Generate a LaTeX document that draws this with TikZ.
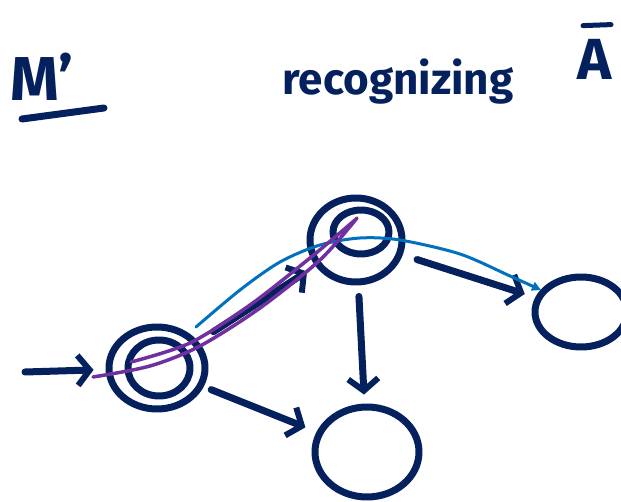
\documentclass[tikz,border=0pt]{standalone}
\usepackage{fontspec}
\setmainfont{Fira Sans}
\usetikzlibrary{arrows.meta,shapes.geometric}
\definecolor{ink}{RGB}{4,33,94}
\definecolor{hlblue}{RGB}{0,112,192}
\definecolor{hlpurple}{RGB}{112,48,160}
\tikzset{
  pen/.style={draw=ink,line width=7pt,line cap=round,line join=round},
  state/.style={ellipse,pen,inner sep=0pt},
  edge/.style={pen,-{Straight Barb[length=12pt,width=30pt,line width=6pt]}},
  hand/.style={text=ink,font=\bfseries,inner sep=0pt},
}
\begin{document}
\begin{tikzpicture}[x=1pt,y=-1pt]
\useasboundingbox (0,0) rectangle (621,502);
% titles
\node[hand,font=\bfseries\fontsize{62}{64}\selectfont,anchor=base west] (m) at (10,101) {M'};
\draw[pen] (22,119) -- (104,108);
\node[hand,font=\bfseries\fontsize{44}{46}\selectfont,anchor=base] (rec) at (398,95) {recognizing};
\node[hand,font=\bfseries\fontsize{58}{60}\selectfont,anchor=base west] (abar) at (577,80) {A};
\draw[pen,line width=5pt] ([xshift=6pt,yshift=14pt]abar.north west) -- ([xshift=34pt,yshift=15pt]abar.north west);
% states
\node[state,minimum width=96pt,minimum height=82pt] (q0) at (157,368) {};
\node[state,minimum width=62pt,minimum height=56pt] (q0in) at (159,368) {};
\node[state,minimum width=92pt,minimum height=84pt] (q1) at (356,240) {};
\node[state,minimum width=56pt,minimum height=44pt] (q1in) at (361,232) {};
\node[state,minimum width=104pt,minimum height=90pt] (q2) at (367,452) {};
\node[state,minimum width=92pt,minimum height=70pt] (q3) at (581,312) {};
% edges
\coordinate (s) at (25,372);
\draw[edge,shorten >=12pt] (s) -- (q0);
\draw[edge,shorten <=18pt,shorten >=10pt] (q0) -- (q1);
\draw[edge,shorten <=11pt,shorten >=9pt] (q1) -- (q2);
\draw[edge,shorten <=15pt,shorten >=11pt] (q1) -- (q3);
\draw[edge,shorten <=8pt,shorten >=12pt] (q0) -- (q2);
% highlights
\coordinate (b0) at (196,327);
\coordinate (b1) at (541,290);
\draw[hlblue,line width=3pt,line cap=round,-{Triangle[length=9pt,width=9pt]}]
  plot[smooth,tension=0.5] coordinates {(b0) (240,290) (280,262) (320,245) (360,238) (400,240) (460,254) (510,276) (b1)};
\draw[hlpurple,line width=3.5pt,line cap=round]
  plot[smooth,tension=0.5] coordinates {(93,377) (150,366) (200,346) (260,308) (320,260) (357,218)};
\draw[hlpurple,line width=3.5pt,line cap=round]
  plot[smooth,tension=0.5] coordinates {(131,362) (190,343) (250,305) (310,258) (355,220)};
\end{tikzpicture}
\end{document}
